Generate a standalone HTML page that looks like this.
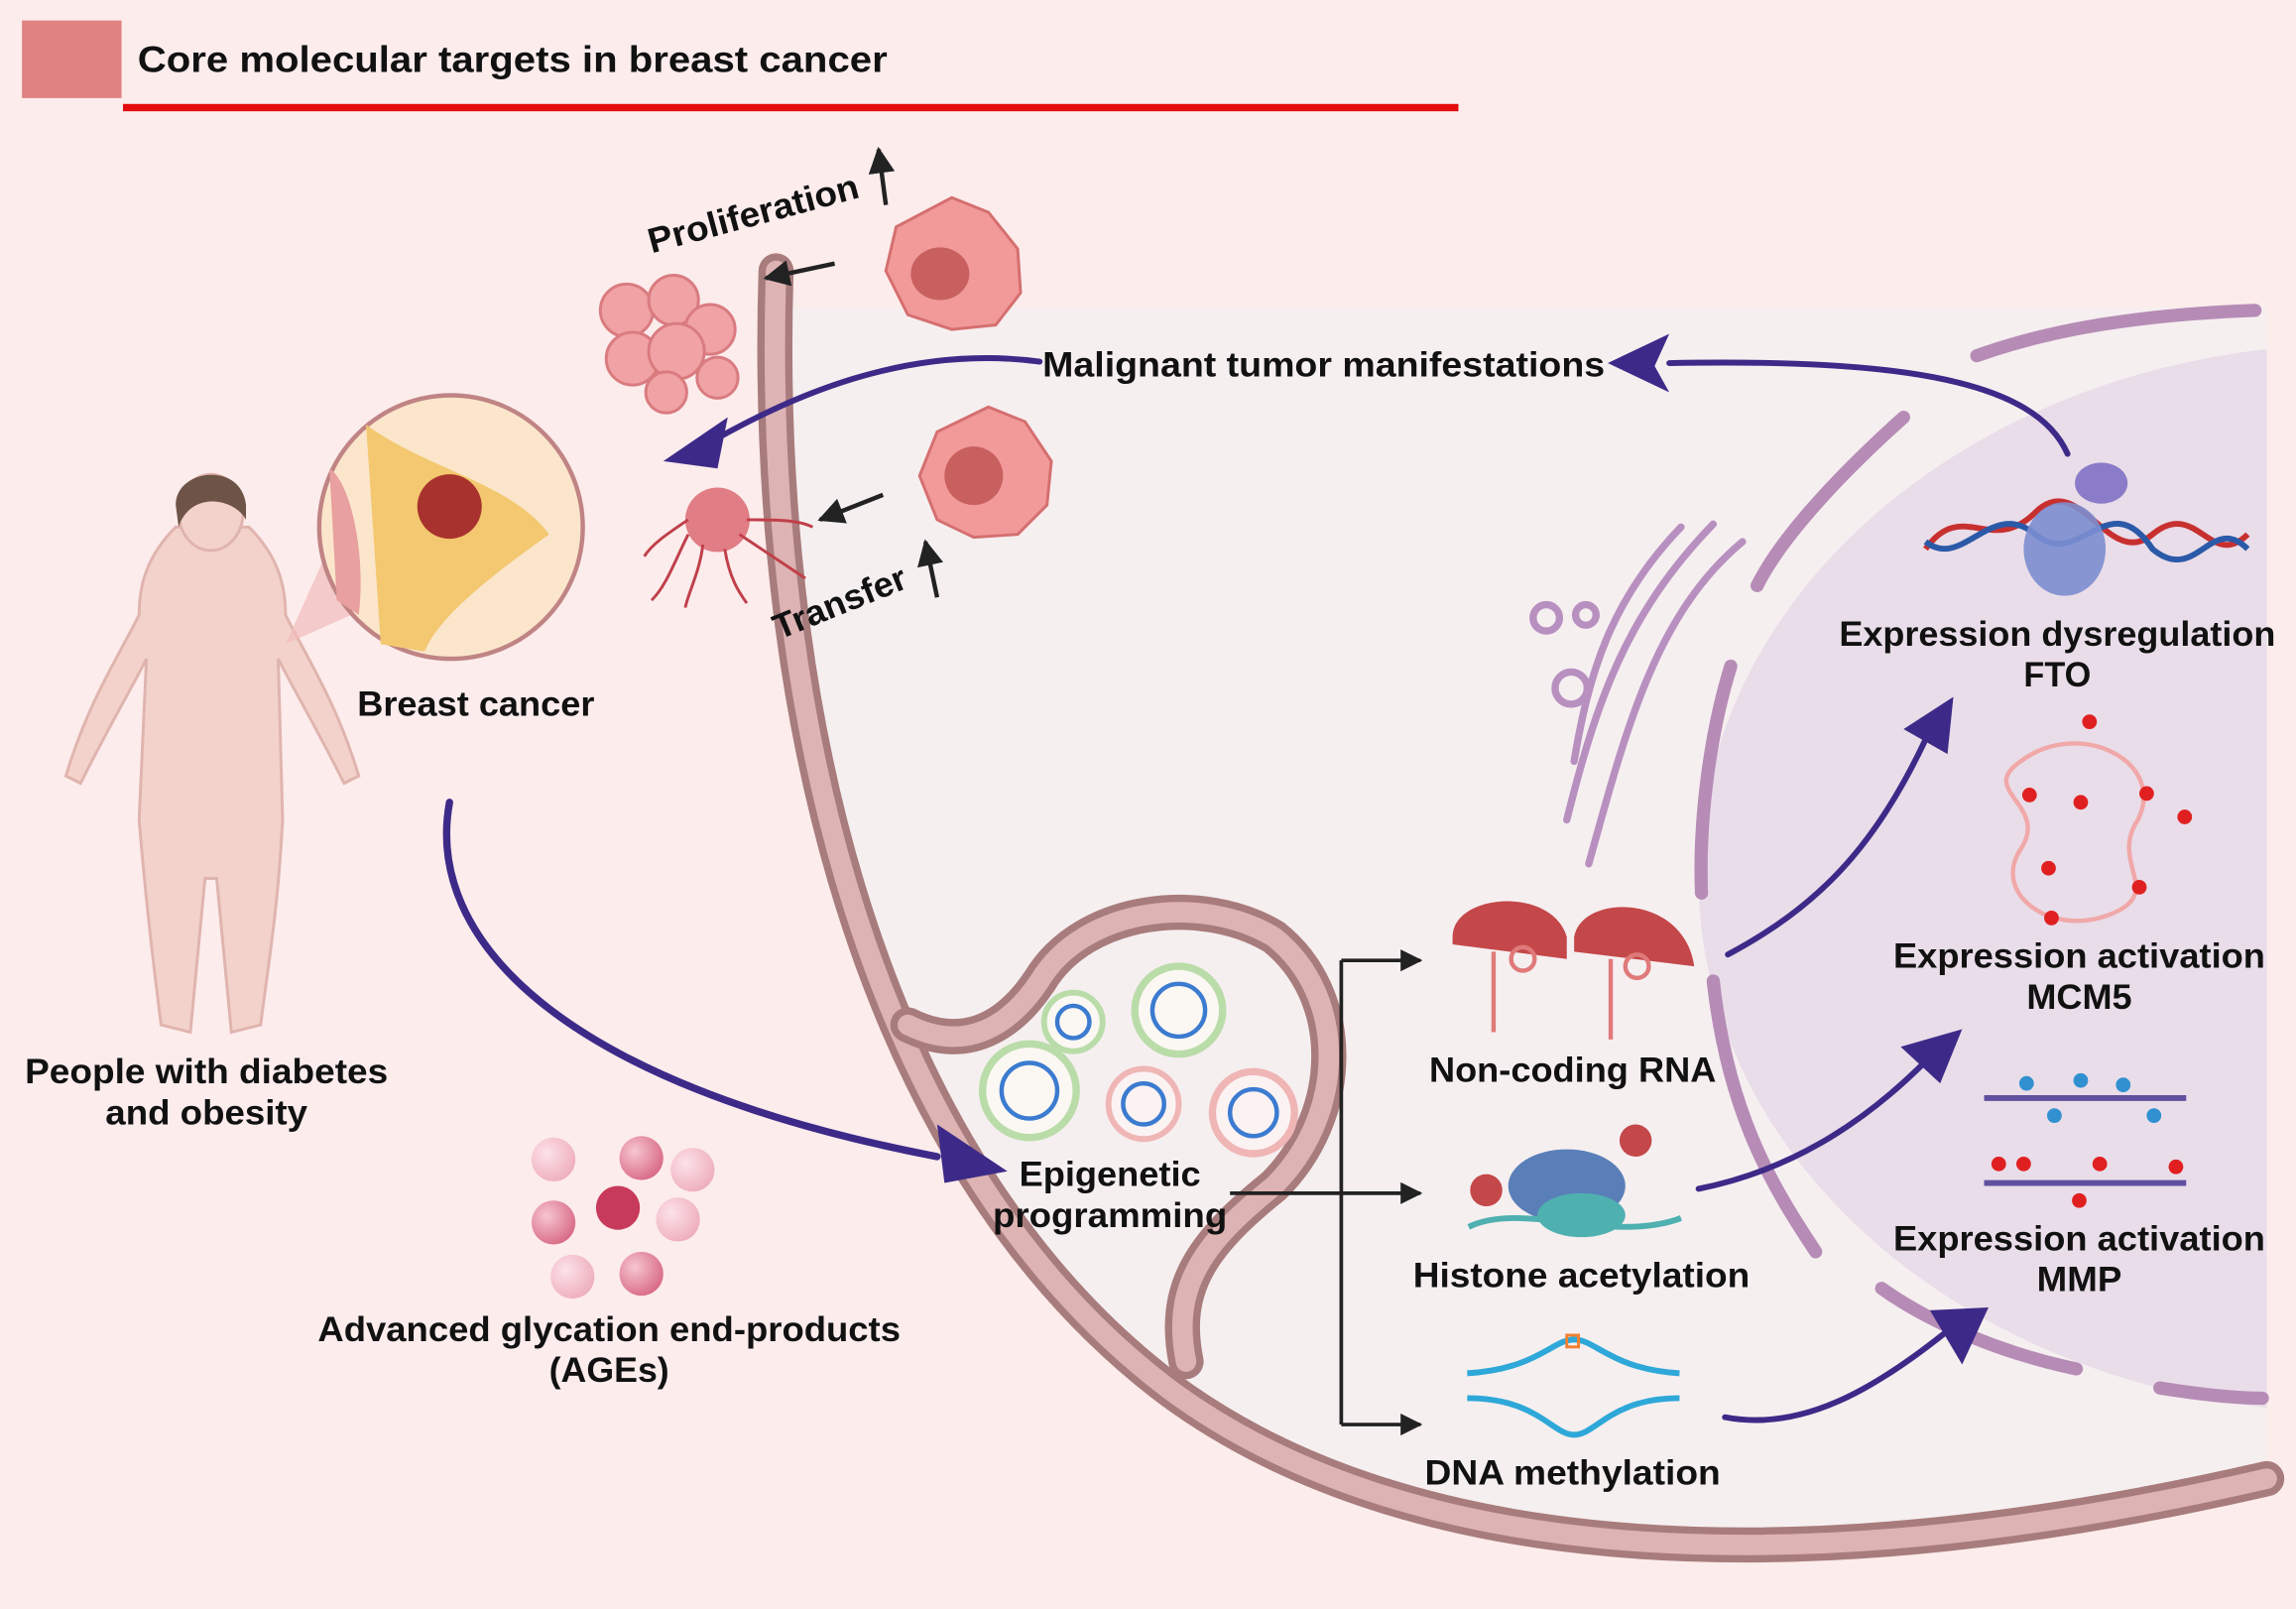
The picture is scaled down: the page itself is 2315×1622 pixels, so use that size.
<!DOCTYPE html>
<html><head><meta charset="utf-8"><style>
html,body{margin:0;padding:0;background:#fcecec;}
svg{display:block}
text{font-family:"Liberation Sans",sans-serif;font-weight:bold;fill:#111;}
</style></head><body>
<svg width="2315" height="1622" viewBox="0 0 1568 1099" preserveAspectRatio="none" xmlns="http://www.w3.org/2000/svg">
<defs>
<marker id="ah" viewBox="0 0 10 10" refX="9" refY="5" markerWidth="6" markerHeight="6" orient="auto"><path d="M0,0 L10,5 L0,10 z" fill="#222"/></marker>
<radialGradient id="sph" cx="35%" cy="35%" r="70%"><stop offset="0" stop-color="#f6c6d0"/><stop offset="1" stop-color="#d96a86"/></radialGradient>
<radialGradient id="sph2" cx="35%" cy="35%" r="70%"><stop offset="0" stop-color="#fde2e8"/><stop offset="1" stop-color="#eeaebd"/></radialGradient>
</defs>
<rect width="1568" height="1099" fill="#fcecec"/>
<rect x="15" y="14" width="68" height="53" fill="#e08282"/>
<text x="94" y="49" font-size="25" textLength="512" lengthAdjust="spacingAndGlyphs">Core molecular targets in breast cancer</text>
<rect x="84" y="71" width="912" height="5" fill="#e30c0c"/>

<path d="M528,210 L1548,210 L1548,1010 C1200,1090 950,1060 800,950 C600,800 520,500 528,210 Z" fill="#f6eff0"/>
<ellipse cx="1610" cy="600" rx="450" ry="365" fill="#e9dde9"/>
<rect x="1548" y="150" width="30" height="900" fill="#fcecec"/>
<g fill="none" stroke="#b68cb6" stroke-width="9" stroke-linecap="round">
<path d="M1350,243 C1400,225 1460,215 1540,212"/>
<path d="M1300,285 C1250,330 1215,370 1200,400"/>
<path d="M1182,455 C1168,500 1160,560 1162,610"/>
<path d="M1170,670 C1180,760 1210,810 1240,855"/>
<path d="M1285,880 C1320,905 1370,925 1418,935"/>
<path d="M1475,948 C1500,952 1525,955 1545,955"/>
</g>
<g fill="none" stroke-linecap="round">
<path d="M530,185 C520,500 600,800 800,950 C950,1060 1200,1090 1548,1010" stroke="#a87c7c" stroke-width="24"/>
<path d="M530,185 C520,500 600,800 800,950 C950,1060 1200,1090 1548,1010" stroke="#deb3b3" stroke-width="14"/>
<path d="M620,700 C660,720 690,700 710,670 C740,620 820,610 870,640 C920,680 920,760 870,810 C820,850 800,880 810,930" stroke="#a87c7c" stroke-width="24"/>
<path d="M620,700 C660,720 690,700 710,670 C740,620 820,610 870,640 C920,680 920,760 870,810 C820,850 800,880 810,930" stroke="#deb3b3" stroke-width="14"/>
</g>
<g fill="none">
<circle cx="805" cy="690" r="30" stroke="#b9dca9" stroke-width="5" fill="#fbf7f2"/><circle cx="805" cy="690" r="18" stroke="#3b7bd0" stroke-width="3"/>
<circle cx="733" cy="698" r="20" stroke="#b9dca9" stroke-width="4" fill="#fbf7f2"/><circle cx="733" cy="698" r="11" stroke="#3b7bd0" stroke-width="3"/>
<circle cx="703" cy="745" r="32" stroke="#b9dca9" stroke-width="5" fill="#fbf7f2"/><circle cx="703" cy="745" r="19" stroke="#3b7bd0" stroke-width="3"/>
<circle cx="781" cy="754" r="24" stroke="#f0b5b5" stroke-width="4" fill="#fbf2f2"/><circle cx="781" cy="754" r="14" stroke="#3b7bd0" stroke-width="3"/>
<circle cx="856" cy="760" r="28" stroke="#f0b5b5" stroke-width="5" fill="#fbf2f2"/><circle cx="856" cy="760" r="16" stroke="#3b7bd0" stroke-width="3"/>
</g>
<g fill="none" stroke="#b890c0" stroke-width="5" stroke-linecap="round">
<path d="M1190,370 C1130,420 1110,500 1085,590"/>
<path d="M1170,358 C1110,420 1090,480 1070,560"/>
<path d="M1148,360 C1100,410 1085,460 1075,520"/>
<circle cx="1056" cy="422" r="9"/><circle cx="1083" cy="420" r="7"/><circle cx="1073" cy="470" r="11"/>
</g>
<g fill="#f3d2cc" stroke="#e0b4ae" stroke-width="2">
<path d="M120,360 C100,380 95,400 95,420 C80,450 60,480 45,530 L55,535 C75,495 90,470 100,450 L95,560 C100,620 105,660 110,700 L130,705 L140,600 L148,600 L158,705 L178,700 C183,660 190,620 193,560 L190,450 C200,470 215,495 235,535 L245,530 C230,480 210,450 195,420 C195,400 190,380 170,360 Z"/>
<ellipse cx="144" cy="350" rx="22" ry="26"/>
</g>
<path d="M120,345 C120,320 165,315 168,345 L168,355 C160,340 130,335 122,360 Z" fill="#6d5447"/>
<path d="M195,440 L240,420 L240,340 Z" fill="#f2bcbc" opacity="0.7"/>
<circle cx="308" cy="360" r="90" fill="#fbe6cc" stroke="#c08484" stroke-width="3"/>
<path d="M250,290 C290,320 350,330 375,365 C340,390 300,420 290,445 L260,440 Z" fill="#f3c870"/>
<circle cx="307" cy="346" r="22" fill="#a8322e"/>
<path d="M225,320 C240,330 250,380 245,420 L230,410 Z" fill="#e8a0a0"/>
<g fill="#f29a9a" stroke="#d56f6f" stroke-width="2">
<path d="M650,135 L675,145 L695,170 L697,200 L680,222 L650,225 L620,215 L605,185 L612,155 Z"/>
<path d="M675,278 L700,288 L718,315 L715,345 L695,365 L665,367 L640,355 L628,325 L640,295 Z"/>
</g>
<ellipse cx="642" cy="187" rx="20" ry="18" fill="#c96060"/>
<ellipse cx="665" cy="325" rx="20" ry="20" fill="#c96060"/>
<g fill="#f0a2a4" stroke="#d97b7f" stroke-width="2">
<circle cx="428" cy="212" r="18"/><circle cx="460" cy="205" r="17"/><circle cx="485" cy="225" r="17"/><circle cx="432" cy="245" r="18"/><circle cx="462" cy="240" r="19"/><circle cx="490" cy="258" r="14"/><circle cx="455" cy="268" r="14"/>
</g>
<circle cx="490" cy="355" r="22" fill="#e07d85"/>
<g stroke="#c0404a" stroke-width="2" fill="none">
<path d="M470,365 C460,385 455,400 445,410"/><path d="M480,372 C478,390 470,405 468,415"/><path d="M495,375 C498,395 505,405 510,412"/><path d="M505,365 C520,375 535,385 550,395"/><path d="M510,355 C530,355 545,355 555,360"/><path d="M470,355 C455,365 445,372 440,380"/>
</g>
<g stroke="#222" stroke-width="3" marker-end="url(#ah)">
<line x1="570" y1="180" x2="523" y2="190"/>
<line x1="603" y1="338" x2="560" y2="355"/>
<line x1="605" y1="140" x2="600" y2="102"/>
<line x1="640" y1="408" x2="632" y2="370"/>
</g>
<text font-size="24" transform="translate(445,173) rotate(-15)" textLength="148" lengthAdjust="spacingAndGlyphs">Proliferation</text>
<text font-size="24" transform="translate(532,437) rotate(-22)" textLength="96" lengthAdjust="spacingAndGlyphs">Transfer</text>
<g fill="none" stroke="#3d2a88" stroke-linecap="round">
<path d="M710,247 C620,235 540,270 480,305" stroke-width="4"/>
<path d="M1412,310 C1390,260 1300,245 1140,248" stroke-width="4"/>
<path d="M307,548 C290,640 380,740 640,790" stroke-width="5"/>
<path d="M1180,652 C1240,620 1280,580 1315,505" stroke-width="4"/>
<path d="M1160,812 C1220,800 1270,770 1315,725" stroke-width="4"/>
<path d="M1178,968 C1230,978 1280,950 1335,905" stroke-width="4"/>
</g>
<g fill="#3d2a88">
<polygon points="453,315 497,285 490,320"/>
<polygon points="1098,248 1140,228 1130,250 1140,268"/>
<polygon points="688,800 640,768 645,808"/>
<polygon points="1334,476 1300,498 1330,515"/>
<polygon points="1340,703 1298,715 1325,740"/>
<polygon points="1358,893 1318,895 1340,932"/>
</g>
<g stroke="#222" stroke-width="2.5" fill="none">
<path d="M840,815 L970,815" marker-end="url(#ah)"/>
<path d="M916,656 L916,973"/>
<path d="M916,656 L970,656" marker-end="url(#ah)"/>
<path d="M916,973 L970,973" marker-end="url(#ah)"/>
</g>
<g fill="#c4474a"><path d="M992,640 C992,610 1060,605 1070,640 L1070,655 L992,645 Z"/><path d="M1075,640 C1080,610 1150,610 1157,660 L1075,650 Z"/></g>
<g stroke="#e07a7a" stroke-width="3" fill="none"><path d="M1020,650 L1020,705"/><path d="M1100,655 L1100,710"/><circle cx="1040" cy="655" r="8"/><circle cx="1118" cy="660" r="8"/></g>
<ellipse cx="1070" cy="810" rx="40" ry="25" fill="#5a7fb8"/><ellipse cx="1080" cy="830" rx="30" ry="15" fill="#4fb0b0"/>
<path d="M1003,838 C1040,820 1100,850 1148,832" stroke="#4fb0b0" stroke-width="4" fill="none"/>
<circle cx="1015" cy="813" r="11" fill="#c4474a"/><circle cx="1117" cy="779" r="11" fill="#c4474a"/>
<path d="M1002,938 C1050,935 1060,915 1075,915 C1090,915 1100,935 1147,938" stroke="#2ea8d8" stroke-width="4" fill="none"/>
<path d="M1002,955 C1050,955 1060,980 1075,980 C1090,980 1100,955 1147,955" stroke="#2ea8d8" stroke-width="4" fill="none"/>
<rect x="1070" y="912" width="8" height="8" fill="none" stroke="#f08030" stroke-width="2"/>
<path d="M1315,375 C1340,340 1360,380 1390,350 C1420,320 1440,390 1470,365 C1500,340 1510,390 1535,365" stroke="#c83030" stroke-width="4" fill="none"/>
<path d="M1315,370 C1340,390 1360,340 1390,365 C1420,390 1440,330 1470,375 C1500,400 1510,350 1535,375" stroke="#2a5aa8" stroke-width="4" fill="none"/>
<ellipse cx="1410" cy="375" rx="28" ry="32" fill="#7c8ed0" opacity="0.9"/><ellipse cx="1435" cy="330" rx="18" ry="14" fill="#8a7cc8"/>
<path d="M1380,520 C1420,490 1480,520 1460,560 C1440,590 1480,610 1440,625 C1400,640 1360,610 1380,580 C1400,550 1350,540 1380,520" stroke="#f0a8a8" stroke-width="3" fill="none"/>
<g fill="#e02020"><circle cx="1427" cy="493" r="5"/><circle cx="1386" cy="543" r="5"/><circle cx="1421" cy="548" r="5"/><circle cx="1466" cy="542" r="5"/><circle cx="1492" cy="558" r="5"/><circle cx="1399" cy="593" r="5"/><circle cx="1461" cy="606" r="5"/><circle cx="1401" cy="627" r="5"/></g>
<path d="M1355,750 L1493,750 M1355,808 L1493,808" stroke="#6050a0" stroke-width="4"/>
<g fill="#3090d0"><circle cx="1384" cy="740" r="5"/><circle cx="1421" cy="738" r="5"/><circle cx="1450" cy="741" r="5"/><circle cx="1403" cy="762" r="5"/><circle cx="1471" cy="762" r="5"/></g>
<g fill="#e02020"><circle cx="1365" cy="795" r="5"/><circle cx="1382" cy="795" r="5"/><circle cx="1434" cy="795" r="5"/><circle cx="1486" cy="797" r="5"/><circle cx="1420" cy="820" r="5"/></g>
<circle cx="378" cy="792" r="15" fill="url(#sph2)"/><circle cx="438" cy="791" r="15" fill="url(#sph)"/><circle cx="473" cy="799" r="15" fill="url(#sph2)"/>
<circle cx="378" cy="835" r="15" fill="url(#sph)"/><circle cx="422" cy="825" r="15" fill="#c83a5a"/><circle cx="463" cy="833" r="15" fill="url(#sph2)"/>
<circle cx="391" cy="872" r="15" fill="url(#sph2)"/><circle cx="438" cy="870" r="15" fill="url(#sph)"/>
<g font-size="24" text-anchor="middle" lengthAdjust="spacingAndGlyphs">
<text x="904" y="257" textLength="384" lengthAdjust="spacingAndGlyphs">Malignant tumor manifestations</text>
<text x="325" y="489" textLength="162" lengthAdjust="spacingAndGlyphs">Breast cancer</text>
<text x="141" y="740" textLength="248" lengthAdjust="spacingAndGlyphs">People with diabetes</text>
<text x="141" y="768" textLength="138" lengthAdjust="spacingAndGlyphs">and obesity</text>
<text x="416" y="916" textLength="398" lengthAdjust="spacingAndGlyphs">Advanced glycation end-products</text>
<text x="416" y="944" textLength="82" lengthAdjust="spacingAndGlyphs">(AGEs)</text>
<text x="758" y="810" textLength="124" lengthAdjust="spacingAndGlyphs">Epigenetic</text>
<text x="758" y="838" textLength="160" lengthAdjust="spacingAndGlyphs">programming</text>
<text x="1074" y="739" textLength="196" lengthAdjust="spacingAndGlyphs">Non-coding RNA</text>
<text x="1080" y="879" textLength="230" lengthAdjust="spacingAndGlyphs">Histone acetylation</text>
<text x="1074" y="1014" textLength="202" lengthAdjust="spacingAndGlyphs">DNA methylation</text>
<text x="1405" y="441" textLength="298" lengthAdjust="spacingAndGlyphs">Expression dysregulation</text>
<text x="1405" y="469" textLength="46" lengthAdjust="spacingAndGlyphs">FTO</text>
<text x="1420" y="661" textLength="254" lengthAdjust="spacingAndGlyphs">Expression activation</text>
<text x="1420" y="689" textLength="72" lengthAdjust="spacingAndGlyphs">MCM5</text>
<text x="1420" y="854" textLength="254" lengthAdjust="spacingAndGlyphs">Expression activation</text>
<text x="1420" y="882" textLength="58" lengthAdjust="spacingAndGlyphs">MMP</text>
</g>
</svg>
</body></html>
